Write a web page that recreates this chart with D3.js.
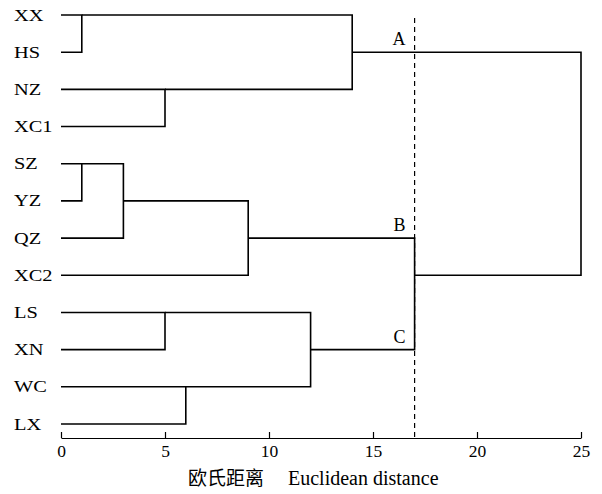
<!DOCTYPE html>
<html>
<head>
<meta charset="utf-8">
<script src="https://cdn.jsdelivr.net/npm/d3@7"></script>
</head>
<body style="margin:0">
<svg id="dendro" width="602" height="494"></svg>
<script>
var leaves = ["XX", "HS", "NZ", "XC1", "SZ", "YZ", "QZ", "XC2", "LS", "XN", "WC", "LX"];

// each merge joins two clusters (leaf names or earlier merge ids) at a distance
var mergeIds   = ["m1", "m2", "m3", "m4", "m5", "m6", "m7", "m8", "m9", "m10", "m11"];
var mergeLeft  = ["XX", "SZ", "m2", "NZ", "LS", "WC", "m3", "m5", "m1", "m7", "m9"];
var mergeRight = ["HS", "YZ", "QZ", "XC1", "XN", "LX", "XC2", "m6", "m4", "m8", "m10"];
var mergeDist  = [1, 1, 3, 5, 5, 6, 9, 12, 14, 17, 25];

var groupNames = ["A", "B", "C"];
var groupNodes = ["m9", "m7", "m8"];
var cutDistance = 17;
var xTicks = [0, 5, 10, 15, 20, 25];

var serif = "'Liberation Serif'";

var svg = d3.select("svg#dendro"),
    margin = {top: 15, left: 61, right: 21, axis: 438};

var x = d3.scaleLinear().domain([0, 25]).range([margin.left, 602 - margin.right]),
    y = d3.scalePoint().domain(leaves).range([margin.top, 424]);

// rows: leaves keep their own row, a merge sits on the row at the floor of its children's midpoint
var nodes = {};
leaves.forEach(function(name, i) { nodes[name] = {row: i, dist: 0}; });
mergeIds.forEach(function(id, i) {
  var a = nodes[mergeLeft[i]], b = nodes[mergeRight[i]];
  nodes[id] = {row: Math.floor((a.row + b.row) / 2), dist: mergeDist[i], a: a, b: b};
});

function rowY(r) { return y(leaves[r]); }

var g = svg.append("g");

g.selectAll("path.link")
  .data(mergeIds.map(function(id) { return nodes[id]; }))
  .enter().append("path")
    .attr("class", "link")
    .attr("fill", "none")
    .attr("stroke", "#000")
    .attr("stroke-width", 1.6)
    .attr("d", function(d) {
      return "M" + x(d.a.dist) + "," + rowY(d.a.row) +
             "H" + x(d.dist) +
             "V" + rowY(d.b.row) +
             "H" + x(d.b.dist);
    });

// leaf labels (the original type is a bit wider than Times)
g.selectAll("text.leaf")
  .data(leaves)
  .enter().append("text")
    .attr("class", "leaf")
    .attr("transform", function(d) { return "translate(14," + (y(d) + 5.5) + ") scale(1.2,1)"; })
    .style("font-family", serif)
    .style("font-size", "17px")
    .text(function(d) { return d; });

// cut line
g.append("line")
  .attr("x1", x(cutDistance)).attr("x2", x(cutDistance))
  .attr("y1", margin.top + 3).attr("y2", margin.axis)
  .attr("stroke", "#000")
  .attr("stroke-width", 1.2)
  .attr("stroke-dasharray", "5,4");

// group labels
g.selectAll("text.group")
  .data(groupNames)
  .enter().append("text")
    .attr("class", "group")
    .attr("x", x(cutDistance) - 9)
    .attr("y", function(d, i) { return rowY(nodes[groupNodes[i]].row) - 7; })
    .attr("text-anchor", "end")
    .style("font-family", serif)
    .style("font-size", "18px")
    .text(function(d) { return d; });

// axis
var axis = g.append("g")
  .attr("transform", "translate(0," + margin.axis + ")")
  .call(d3.axisBottom(x).tickValues(xTicks).tickSizeInner(-6).tickSizeOuter(0).tickPadding(7));
axis.select(".domain").attr("stroke", "#000").attr("stroke-width", 1.2);
axis.selectAll(".tick line").attr("stroke", "#000").attr("stroke-width", 1.2);
axis.selectAll(".tick text")
  .attr("fill", "#000")
  .style("font-family", serif)
  .style("font-size", "17.5px");

var title = g.append("text")
  .attr("x", 188)
  .attr("y", 485)
  .style("font-family", serif)
  .style("font-size", "19px");
title.append("tspan").style("font-family", "'Noto Sans CJK SC'").text("欧氏距离");
title.append("tspan").attr("dx", 24).style("font-size", "20px").text("Euclidean distance");
</script>
</body>
</html>
